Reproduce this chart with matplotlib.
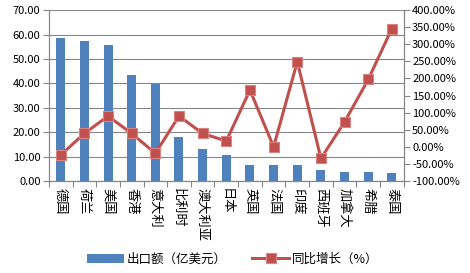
import numpy as np
from matplotlib import pyplot as plt
from matplotlib.ticker import FuncFormatter, MultipleLocator

plt.rcParams["font.family"] = ["Noto Sans CJK SC", "DejaVu Sans"]

countries = ["德国", "荷兰", "美国", "香港", "意大利", "比利时", "澳大利亚", "日本",
             "英国", "法国", "印度", "西班牙", "加拿大", "希腊", "泰国"]
exports = [58.4, 57.3, 55.7, 43.4, 39.7, 18.1, 13.1, 10.8,
           6.5, 6.5, 6.5, 4.5, 3.6, 3.6, 3.3]
growth = [-24, 39, 90, 39, -19, 90, 39, 17,
          166, 0, 249, -34, 73, 197, 346]

bar_color = "#4F81BD"
line_color = "#C0504D"
grid_color = "#868686"

fig = plt.figure(figsize=(4.7, 2.73), dpi=100)
ax = fig.add_axes([0.104, 0.337, 0.755, 0.626])
x = np.arange(len(countries))

ax.bar(x, exports, width=0.38, color=bar_color, zorder=2, label="出口额（亿美元）")
ax.set_ylim(0, 70)
ax.set_xlim(-0.5, len(countries) - 0.5)
ax.yaxis.set_major_locator(MultipleLocator(10))
ax.yaxis.set_major_formatter(FuncFormatter(lambda v, p: f"{v:.2f}"))
ax.grid(axis="y", color=grid_color, linewidth=0.8, zorder=0)
ax.set_axisbelow(True)

# ticks sit between categories, labels sit under each bar
ax.set_xticks(np.arange(-0.5, len(countries), 1))
ax.set_xticklabels([])
ax.set_xticks(x, minor=True)
ax.set_xticklabels(countries, minor=True, rotation=270, fontsize=9.5,
                   va="top", ha="center")
ax.tick_params(axis="x", which="minor", length=0, pad=5)
ax.tick_params(axis="x", which="major", length=4, color=grid_color, direction="out")
ax.tick_params(axis="y", length=4, color=grid_color, labelsize=8, pad=2)

for side in ["left", "bottom", "right"]:
    ax.spines[side].set_color(grid_color)
ax.spines["top"].set_visible(False)

ax2 = ax.twinx()
ax2.plot(x, growth, color=line_color, linewidth=2.2, marker="s", markersize=6.5,
         markerfacecolor=line_color, markeredgecolor="#D9827F", markeredgewidth=0.8,
         zorder=3, label="同比增长（%）")
ax2.set_ylim(-100, 400)
ax2.yaxis.set_major_locator(MultipleLocator(50))
ax2.yaxis.set_major_formatter(FuncFormatter(lambda v, p: f"{v:.2f}%"))
ax2.tick_params(axis="y", length=4, color=grid_color, labelsize=8, pad=2)
for side in ["left", "bottom", "right"]:
    ax2.spines[side].set_color(grid_color)
ax2.spines["top"].set_visible(False)

h1, l1 = ax.get_legend_handles_labels()
h2, l2 = ax2.get_legend_handles_labels()
fig.legend(h1 + h2, l1 + l2, loc="center", bbox_to_anchor=(0.495, 0.05), ncol=2,
           frameon=False, fontsize=9, handlelength=3.0, columnspacing=2.0,
           handletextpad=0.2)

fig.savefig("out.png", dpi=100)
